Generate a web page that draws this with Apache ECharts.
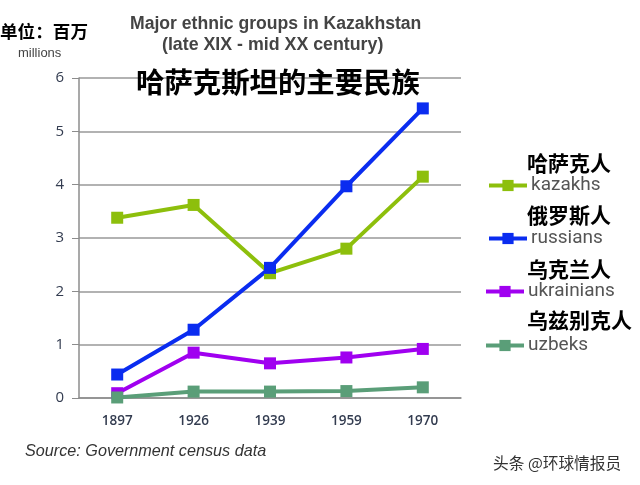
<!DOCTYPE html>
<html>
<head>
<meta charset="utf-8">
<style>html,body{margin:0;padding:0;background:#fff}#chart{width:640px;height:485px}</style>
<script src="https://cdn.jsdelivr.net/npm/echarts@6/dist/echarts.min.js"></script>
</head>
<body>
<div id="chart"></div>
<script>
const years = ['1897', '1926', '1939', '1959', '1970']
const kazakhs = [3.38, 3.62, 2.34, 2.8, 4.15]
const russians = [0.44, 1.28, 2.44, 3.97, 5.43]
const ukrainians = [0.09, 0.85, 0.65, 0.76, 0.92]
const uzbeks = [0.01, 0.12, 0.12, 0.13, 0.2]
const names = ['kazakhs', 'russians', 'ukrainians', 'uzbeks']
const colors = ['#8dbf0c', '#0a2cf0', '#a000f0', '#5a9e78']
const cnNames = ['哈萨克人', '俄罗斯人', '乌克兰人', '乌兹别克人']

const cjk = '"Noto Sans CJK SC", sans-serif'
const chart = echarts.init(document.getElementById('chart'))

function line(name, data, color) {
  return {
    name: name,
    type: 'line',
    data: data,
    symbol: 'rect',
    symbolSize: 12,
    z: name === 'uzbeks' ? 5 : 3,
    lineStyle: { color: color, width: 4 },
    itemStyle: { color: color }
  }
}

function legend(i, top, left) {
  return {
    data: [names[i]],
    left: left,
    top: top,
    padding: 0,
    itemWidth: 38,
    itemHeight: 14,
    itemGap: 0,
    selectedMode: false,
    lineStyle: { width: 4 },
    textStyle: { fontFamily: 'Roboto, sans-serif', fontSize: 19, color: '#555', padding: [0, 0, 0, -1] }
  }
}

function cnLabel(text, x, y, size) {
  return {
    type: 'text',
    left: x,
    top: y,
    z: 20,
    style: { text: text, fontFamily: cjk, fontWeight: 'bold', fontSize: size, fill: '#000' }
  }
}

const option = {
  backgroundColor: '#fff',
  animation: false,
  grid: { left: 79, right: 179, top: 78, bottom: 87 },
  legend: [legend(0, 176, 487), legend(1, 229, 487), legend(2, 282, 484), legend(3, 336, 484)],
  xAxis: {
    type: 'category',
    data: years,
    boundaryGap: true,
    axisLine: { lineStyle: { color: '#8c8c8c', width: 1.5 } },
    axisTick: { length: 5, lineStyle: { color: '#8c8c8c' } },
    axisLabel: { margin: 16, fontFamily: '"Open Sans", sans-serif', fontSize: 13.5, fontWeight: 600, color: '#333c50' }
  },
  yAxis: {
    type: 'value',
    min: 0,
    max: 6,
    interval: 1,
    axisLine: { show: true, lineStyle: { color: '#8c8c8c', width: 1.5 } },
    axisTick: { show: true, length: 7, lineStyle: { color: '#8c8c8c' } },
    splitLine: { lineStyle: { color: '#999', width: 1.5 } },
    axisLabel: { margin: 15, fontFamily: '"Open Sans", sans-serif', fontSize: 15, color: '#333c50' }
  },
  series: [
    line(names[0], kazakhs, colors[0]),
    line(names[1], russians, colors[1]),
    line(names[2], ukrainians, colors[2]),
    line(names[3], uzbeks, colors[3])
  ],
  graphic: [
    { type: 'text', left: 130, top: 15, style: { text: 'Major ethnic groups in Kazakhstan', fontFamily: '"Liberation Sans", sans-serif', fontWeight: 'bold', fontSize: 17.6, fill: '#444' } },
    { type: 'text', left: 162, top: 36, style: { text: '(late XIX - mid XX century)', fontFamily: '"Liberation Sans", sans-serif', fontWeight: 'bold', fontSize: 17.8, fill: '#444' } },
    { type: 'text', left: 18, top: 47, style: { text: 'millions', fontFamily: '"Liberation Sans", sans-serif', fontSize: 13, fill: '#444' } },
    { type: 'text', left: 25, top: 443, style: { text: 'Source: Government census data', fontFamily: '"Liberation Sans", sans-serif', fontStyle: 'italic', fontSize: 16.2, fill: '#333' } },
    { type: 'text', left: 493, top: 455, style: { text: '头条 @环球情报员', fontFamily: cjk, fontSize: 15.7, fill: '#333' } },
    cnLabel('单位：百万', 0, 23, 17.6),
    cnLabel('哈萨克斯坦的主要民族', 136, 68, 28.4),
    cnLabel(cnNames[0], 527, 153, 21),
    cnLabel(cnNames[1], 527, 205, 21),
    cnLabel(cnNames[2], 527, 259, 21),
    cnLabel(cnNames[3], 527, 310, 21)
  ]
}
chart.setOption(option)
</script>
</body>
</html>
